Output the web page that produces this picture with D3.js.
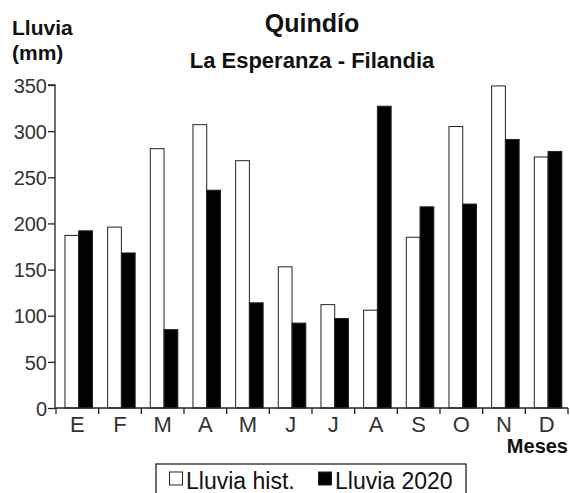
<!DOCTYPE html>
<html><head><meta charset="utf-8">
<script src="https://cdn.jsdelivr.net/npm/d3@7"></script>
<style>body{margin:0;background:#fff;} svg{display:block;font-family:"Liberation Sans",Arial,sans-serif;}</style>
</head><body>
<script>
const months = ["E","F","M","A","M","J","J","A","S","O","N","D"];
const seriesNames = ["Lluvia hist.","Lluvia 2020"];
const histValues = [187,196,281,307,268,153,112,106,185,305,349,272];
const rain2020Values = [192,168,85,236,114,92,97,327,218,221,291,278];
const yTicks = [0,50,100,150,200,250,300,350];

(function(){
const W=570,H=493;
const svg=d3.select("body").append("svg").attr("width",W).attr("height",H);
const pL=56,pR=568,pT=85,pB=408;
const idx=d3.range(months.length);
const x0=d3.scaleBand().domain(idx).range([pL,pR]);
const bw=x0.bandwidth();
const x1=d3.scaleBand().domain(seriesNames).range([bw*0.21,bw*0.855]);
const y=d3.scaleLinear().domain([0,350]).range([pB,pT]);

// bars
const data=idx.map(i=>({i,vals:[histValues[i],rain2020Values[i]]}));
const g=svg.append("g");
data.forEach(d=>{
  seriesNames.forEach((s,k)=>{
    g.append("rect")
      .attr("x",x0(d.i)+x1(s)).attr("width",x1.bandwidth())
      .attr("y",y(d.vals[k])).attr("height",pB-y(d.vals[k]))
      .attr("fill",k===0?"#fff":"#000")
      .attr("stroke","#222").attr("stroke-width",1);
  });
});

// y axis
const ya=svg.append("g").attr("transform","translate(55,0)")
  .call(d3.axisLeft(y).tickValues(yTicks).tickSize(7).tickPadding(1).tickFormat(d3.format("d")));
ya.select(".domain").attr("stroke","#222").attr("stroke-width",1.3).attr("d",`M-7,${pT}H0V${pB}`);
ya.selectAll(".tick line").attr("stroke","#222").attr("stroke-width",1.3);
ya.selectAll(".tick text").attr("font-size",20).attr("fill","#333").attr("font-family","Liberation Sans, Arial, sans-serif").attr("dy","0.36em");

// x axis
const xa=svg.append("g").attr("transform",`translate(0,${pB})`);
xa.append("line").attr("x1",55).attr("x2",pR).attr("y1",0).attr("y2",0).attr("stroke","#222").attr("stroke-width",1.3);
idx.concat([months.length]).forEach(i=>{
  const xx=i<months.length?x0(i):pR;
  xa.append("line").attr("x1",xx).attr("x2",xx).attr("y1",0).attr("y2",6).attr("stroke","#222").attr("stroke-width",1.3);
});
idx.forEach(i=>{
  xa.append("text").attr("x",x0(i)+bw/2).attr("y",24).attr("text-anchor","middle")
    .attr("font-size",22).attr("fill","#333").text(months[i]);
});

// titles
svg.append("text").attr("x",312).attr("y",32).attr("text-anchor","middle").attr("font-size",25).attr("font-weight","bold").attr("fill","#111").text("Quindío");
svg.append("text").attr("x",312).attr("y",68).attr("text-anchor","middle").attr("font-size",22).attr("font-weight","bold").attr("fill","#111").text("La Esperanza - Filandia");
svg.append("text").attr("x",12).attr("y",35).attr("font-size",21).attr("font-weight","bold").attr("fill","#111").text("Lluvia");
svg.append("text").attr("x",12).attr("y",60).attr("font-size",21).attr("font-weight","bold").attr("fill","#111").text("(mm)");
svg.append("text").attr("x",568).attr("y",453).attr("text-anchor","end").attr("font-size",20).attr("font-weight","bold").attr("fill","#111").text("Meses");

// legend
const lg=svg.append("g");
lg.append("rect").attr("x",156).attr("y",464).attr("width",310).attr("height",40).attr("fill","#fff").attr("stroke","#222").attr("stroke-width",1.3);
const legX=[169,318];
seriesNames.forEach((s,k)=>{
  lg.append("rect").attr("x",legX[k]+0.5).attr("y",472).attr("width",13).attr("height",13)
    .attr("fill",k===0?"#fff":"#000").attr("stroke","#222").attr("stroke-width",1);
  lg.append("text").attr("x",legX[k]+17).attr("y",489).attr("font-size",23).attr("fill","#111").text(s);
});
})();
</script>
</body></html>
